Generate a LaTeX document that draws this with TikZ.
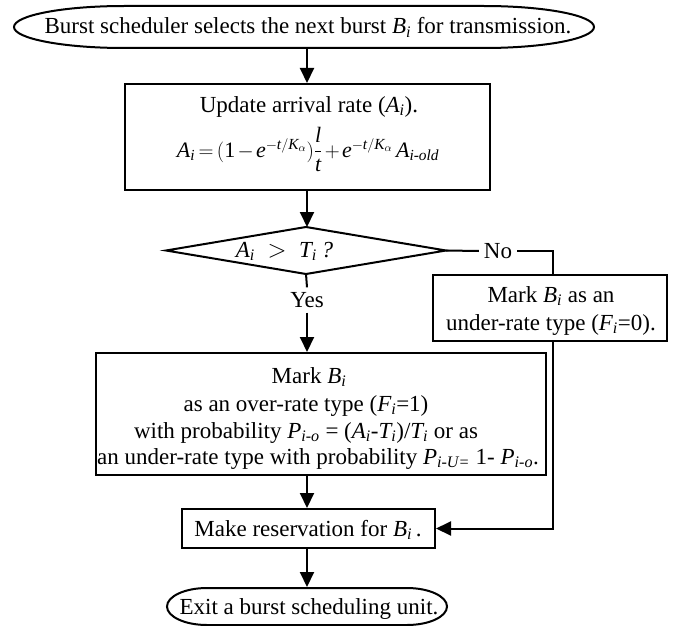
\documentclass[tikz,border=0pt]{standalone}
\usepackage{amsmath}
\usepackage{fontspec}
\setmainfont{Liberation Serif}
\usetikzlibrary{arrows.meta}
\newcommand\vv[2]{$\mathit{#1}_{\textit{#2}}$}
\begin{document}
\begin{tikzpicture}[x=1pt,y=-1pt, line width=2pt,
  txt/.style={font=\fontsize{23}{27.5}\selectfont, inner sep=0pt},
  ln/.style={txt, anchor=base},
  boxx/.style={draw, rectangle, inner sep=0pt},
  arr/.style={-{Triangle[length=15pt,width=14pt]}}]
\useasboundingbox[fill=white] (0,0) rectangle (677,626);
\coordinate (ax) at (307,0);
\coordinate (rx) at (553,0);
% start terminal
\node[txt, minimum width=580, minimum height=42] (start) at (304,27) {};
\draw (124,6) -- (484,6) .. controls (544.75,6) and (594,15.4) .. (594,27)
  .. controls (594,38.6) and (544.75,48) .. (484,48) -- (124,48)
  .. controls (63.25,48) and (14,38.6) .. (14,27)
  .. controls (14,15.4) and (63.25,6) .. (124,6) -- cycle;
\node[ln] (startt) at (308,34) {Burst scheduler selects the next burst \vv{B}{i} for transmission.};
% update box
\node[boxx, minimum width=365, minimum height=106] (upd) at (307.5,137) {};
\node[ln] (updt) at (309,112) {Update arrival rate (\vv{A}{i}).};
\node[ln, font=\fontsize{22}{26}\selectfont] (form) at (308,157)
  {\medmuskip=2mu\thickmuskip=3mu$\mathit{A}_{\textit{i}} = \mathrm{(1}-\mathit{e}^{-\mathit{t}/\mathit{K}_{\alpha}}\mathrm{)}\dfrac{\mathit{l}}{\mathit{t}} + \mathit{e}^{-\mathit{t}/\mathit{K}_{\alpha}}\,\mathit{A}_{\textit{i-old}}$};
% decision
\node[inner sep=0pt, minimum width=278, minimum height=45] (dec) at (306,250.5) {};
\draw (dec.west) -- (dec.north) -- (dec.east) -- (dec.south) -- cycle;
\node[ln] (dect) at (284.5,257) {\vv{A}{i}\hspace{0.55em}$>$\hspace{0.55em}\vv{T}{i}\hspace{0.2em}\textit{?}};
% no branch
\node[txt, inner sep=4pt] (no) at (498,251) {No};
\node[boxx, minimum width=234, minimum height=66] (ub) at (550,308) {};
\node[ln] (ub1) at (551,302) {Mark \vv{B}{i} as an};
\node[ln] (ub2) at (551,330) {under-rate type (\vv{F}{i}=0).};
% yes branch
\node[txt, inner sep=4pt] (yes) at (307,300) {Yes};
\node[boxx, minimum width=450, minimum height=122] (mk) at (321,414) {};
\node[ln] (mk1) at (309,383) {Mark \vv{B}{i}};
\node[ln] (mk2) at (306,411) {as an over-rate type (\vv{F}{i}=1)};
\node[ln] (mk3) at (306,438) {with probability \vv{P}{i-o} = (\vv{A}{i}-\vv{T}{i})/\vv{T}{i} or as};
\node[ln] (mk4) at (318,464) {an under-rate type with probability \vv{P}{i-U=} 1- \vv{P}{i-o}.};
% reservation
\node[boxx, minimum width=253, minimum height=39] (res) at (308.5,528.5) {};
\node[ln] (rest) at (308,536) {Make reservation for \vv{B}{i}\,.};
% exit terminal
\node[txt, minimum width=280, minimum height=37] (ex) at (307,606.5) {};
\draw (207,588) -- (407,588) .. controls (429.1,588) and (447,596.3) .. (447,606.5)
  .. controls (447,616.7) and (429.1,625) .. (407,625) -- (207,625)
  .. controls (184.9,625) and (167,616.7) .. (167,606.5)
  .. controls (167,596.3) and (184.9,588) .. (207,588) -- cycle;
\node[ln] (ext) at (309,614) {Exit a burst scheduling unit.};
% connectors
\draw[arr] (start.south -| ax) -- (upd.north -| ax);
\draw[arr] (upd.south -| ax) -- (dec.north -| ax);
\draw (dec.east) -- (no.west);
\draw (no.east) -| (ub.north -| rx);
\draw (dec.south) -- (yes.north);
\draw[arr] (yes.south) -- (mk.north -| yes);
\draw[arr] (ub.south -| rx) |- (res.east);
\draw[arr] (mk.south -| ax) -- (res.north -| ax);
\draw[arr] (res.south -| ax) -- (ex.north -| ax);
\end{tikzpicture}
\end{document}
